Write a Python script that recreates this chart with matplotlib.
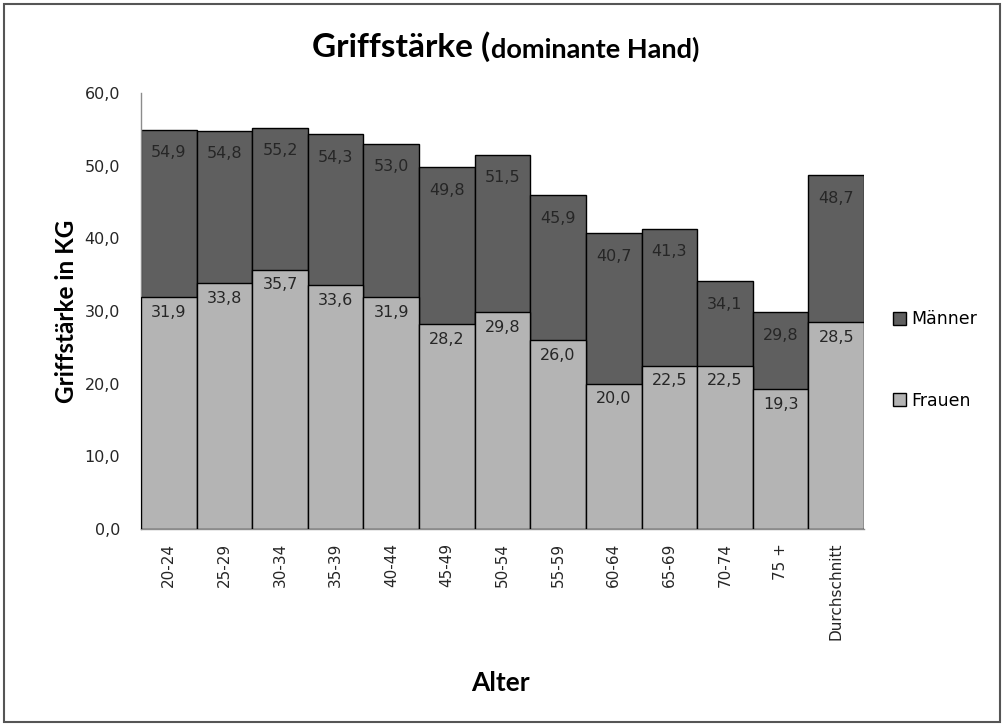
import matplotlib
matplotlib.use("Agg")
import matplotlib.pyplot as plt
from matplotlib.patches import Rectangle, Patch

categories = ["20-24", "25-29", "30-34", "35-39", "40-44", "45-49", "50-54",
              "55-59", "60-64", "65-69", "70-74", "75 +", "Durchschnitt"]
maenner = [54.9, 54.8, 55.2, 54.3, 53.0, 49.8, 51.5, 45.9, 40.7, 41.3, 34.1, 29.8, 48.7]
frauen = [31.9, 33.8, 35.7, 33.6, 31.9, 28.2, 29.8, 26.0, 20.0, 22.5, 22.5, 19.3, 28.5]
yticks = [0, 10, 20, 30, 40, 50, 60]

BOLD = ["Lato", "DejaVu Sans"]
plt.rcParams["font.family"] = ["DejaVu Sans"]

c_m = "#5f5f5f"
c_f = "#b4b4b4"
txt = "#262626"

W, H = 1004, 726
fig = plt.figure(figsize=(W / 100, H / 100), dpi=100)
fig.patches.append(Rectangle((4 / W, 4 / H), 996 / W, 718 / H, transform=fig.transFigure,
                             fill=False, edgecolor="#555555", linewidth=1.5))

ax = fig.add_axes([141 / W, 1 - 529 / H, (864 - 141) / W, (529 - 93) / H])
x = list(range(len(categories)))
ax.bar(x, maenner, width=1.0, color=c_m, edgecolor="black", linewidth=1.0, zorder=2)
ax.bar(x, frauen, width=1.0, color=c_f, edgecolor="black", linewidth=1.0, zorder=3)

def fmt(v):
    return f"{v:.1f}".replace(".", ",")

for xi, m, f in zip(x, maenner, frauen):
    ax.annotate(fmt(m), (xi, m), xytext=(0, -16.5), textcoords="offset points",
                ha="center", va="center", fontsize=11.5, color=txt, zorder=5)
    ax.annotate(fmt(f), (xi, f), xytext=(0, -11), textcoords="offset points",
                ha="center", va="center", fontsize=11.5, color=txt, zorder=5)

ax.set_xlim(-0.5, len(categories) - 0.5)
ax.set_ylim(0, 60)
ax.set_yticks(yticks)
ax.set_yticklabels([fmt(v) for v in yticks], fontsize=11.5, color=txt)
ax.set_xticks(x)
ax.set_xticklabels(categories, rotation=90, fontsize=11, color=txt)
ax.tick_params(axis="both", length=0)
ax.tick_params(axis="y", pad=15)
ax.tick_params(axis="x", pad=10)
for s in ["top", "right"]:
    ax.spines[s].set_visible(False)
for s in ["left", "bottom"]:
    ax.spines[s].set_color("#8c8c8c")
    ax.spines[s].set_linewidth(1.0)

ax.set_ylabel("Griffstärke in KG", fontsize=17.5, fontweight="bold", color="black",
              labelpad=5, family=BOLD)
fig.text(500 / W, 1 - 683 / H, "Alter", fontsize=19, fontweight="bold", ha="center",
         va="center", family=BOLD)

# title
fig.text(490 / W, 1 - 47 / H, "Griffstärke (", fontsize=24, fontweight="bold", ha="right",
         va="center", family=BOLD)
fig.text(491 / W, 1 - 49 / H, "dominante Hand)", fontsize=19.5, fontweight="bold", ha="left",
         va="center", family=BOLD)

handles = [Patch(facecolor=c_m, edgecolor="black", linewidth=1.0, label="Männer"),
           Patch(facecolor=c_f, edgecolor="black", linewidth=1.0, label="Frauen")]
fig.legend(handles=handles, loc="center left", bbox_to_anchor=(877 / W, 1 - 360 / H),
           frameon=False, labelspacing=3.65, handlelength=0.75, handleheight=0.75,
           handletextpad=0.3, prop={"family": "DejaVu Sans", "size": 12.5})

fig.savefig("out.png", dpi=100)
